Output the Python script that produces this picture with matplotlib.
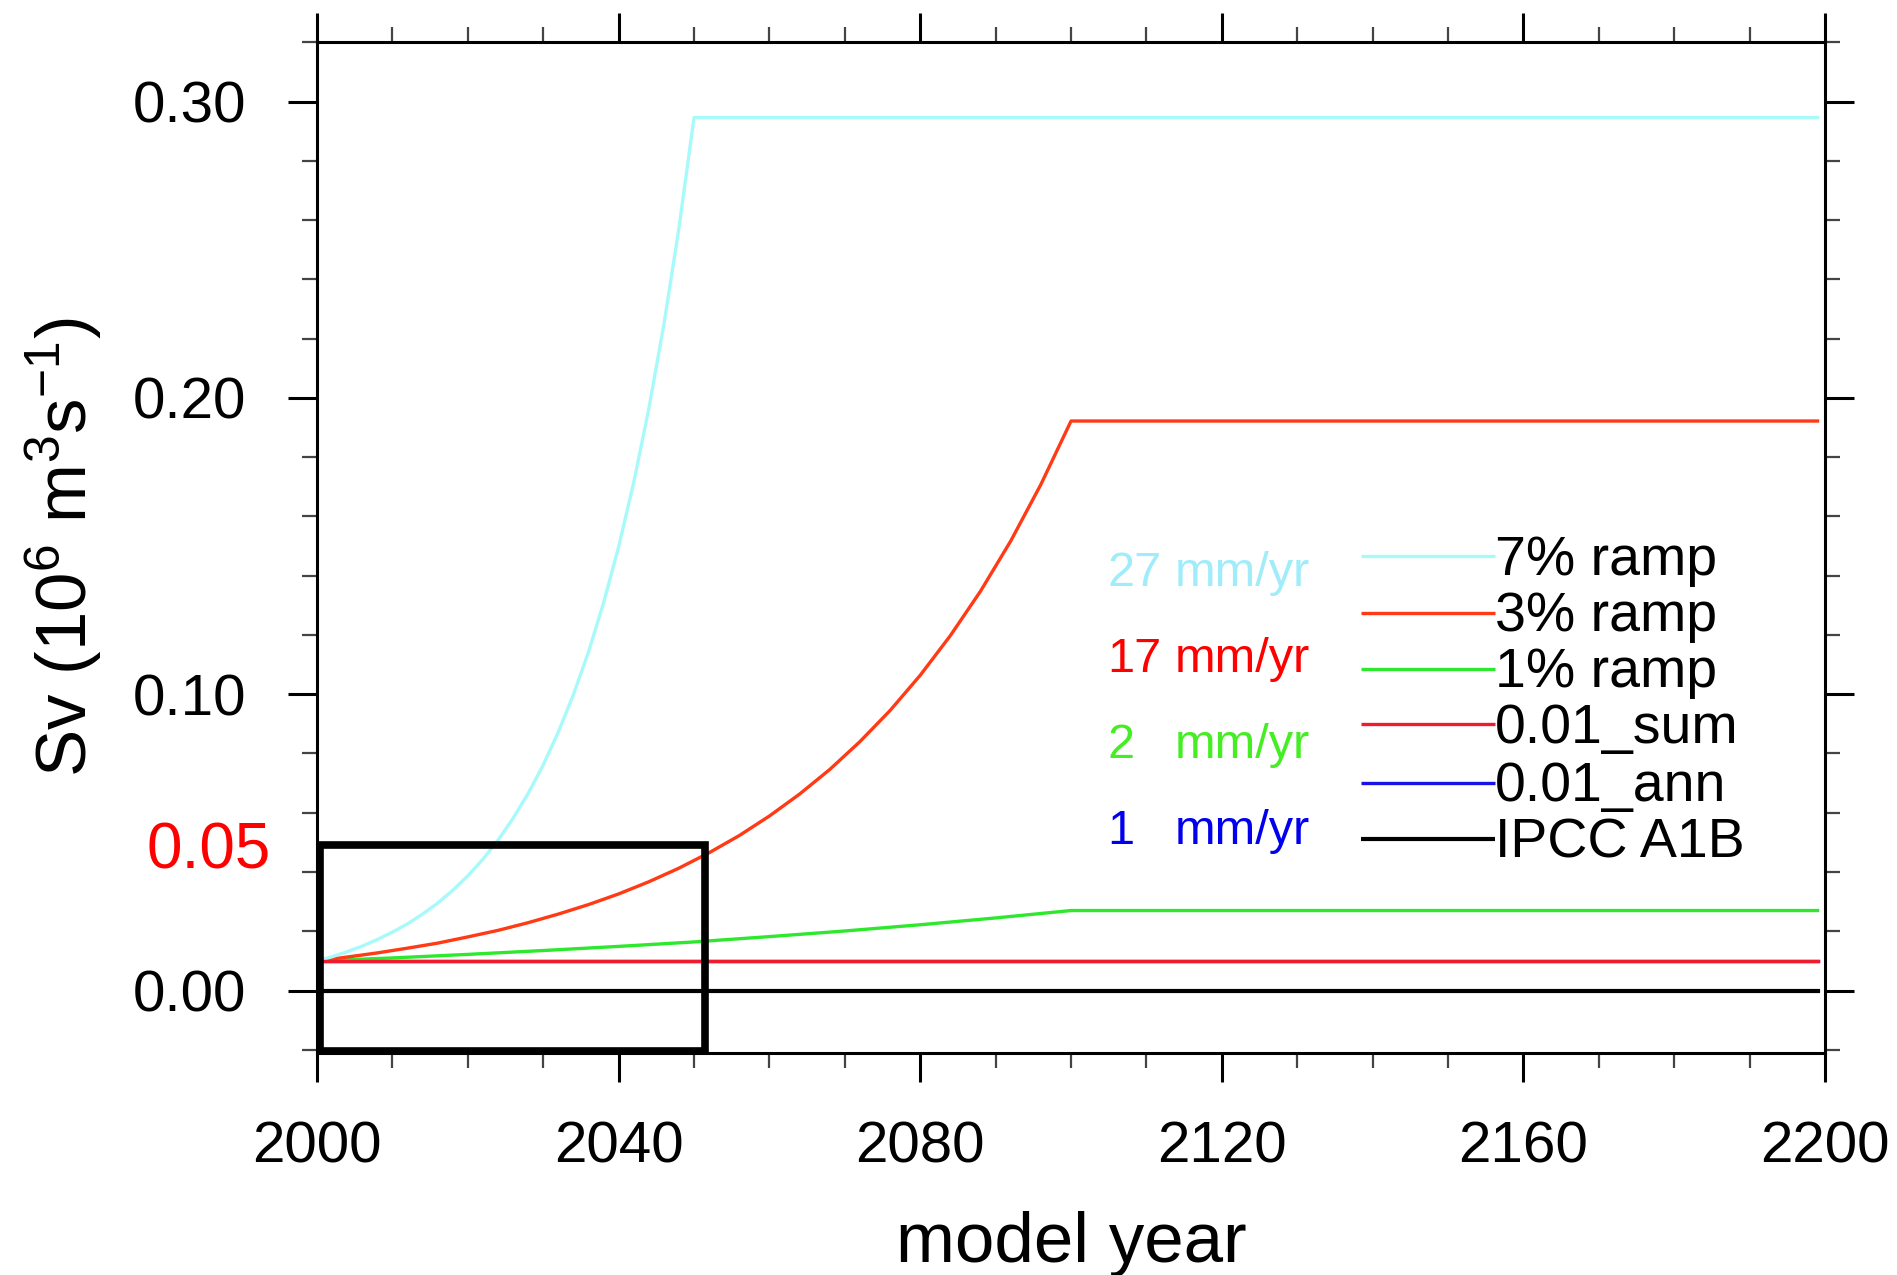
import matplotlib
matplotlib.use("Agg")
import matplotlib.pyplot as plt
from matplotlib.patches import Rectangle
from matplotlib.ticker import MultipleLocator

plt.rcParams["font.family"] = ["Liberation Sans", "DejaVu Sans"]
plt.rcParams["mathtext.fontset"] = "custom"
plt.rcParams["mathtext.rm"] = "Liberation Sans"
plt.rcParams["mathtext.it"] = "Liberation Sans:italic"

# Freshwater forcing (Sv)
years_7 = list(range(2000, 2051, 2)) + [2199]
ramp_7 = [0.0100, 0.0114, 0.0131, 0.0150, 0.0172, 0.0197, 0.0225, 0.0258,
          0.0295, 0.0338, 0.0387, 0.0443, 0.0507, 0.0581, 0.0665, 0.0761,
          0.0872, 0.0998, 0.1142, 0.1308, 0.1497, 0.1714, 0.1963, 0.2247,
          0.2573, 0.2946, 0.2946]

years_3 = list(range(2000, 2101, 4)) + [2199]
ramp_3 = [0.0100, 0.0113, 0.0127, 0.0143, 0.0160, 0.0181, 0.0203, 0.0229,
          0.0258, 0.0290, 0.0326, 0.0367, 0.0413, 0.0465, 0.0523, 0.0589,
          0.0663, 0.0746, 0.0840, 0.0945, 0.1064, 0.1198, 0.1348, 0.1517,
          0.1708, 0.1922, 0.1922]

years_1 = [2000, 2010, 2020, 2030, 2040, 2050, 2060, 2070, 2080, 2090, 2100, 2199]
ramp_1 = [0.0100, 0.0110, 0.0122, 0.0135, 0.0149, 0.0164, 0.0182, 0.0201,
          0.0222, 0.0245, 0.0270, 0.0270]

years_flat = [2000, 2199]
sum_001 = [0.010, 0.010]
ann_001 = [0.010, 0.010]
ipcc_a1b = [0.0, 0.0]

labels = ["7% ramp", "3% ramp", "1% ramp", "0.01_sum", "0.01_ann", "IPCC A1B"]
colors = ["#a8fafa", "#ff3a14", "#2ee82e", "#ee1c2c", "#1414e6", "#000000"]

rate_nums = ["27", "17", "2", "1"]
rate_colors = ["#a0ecfa", "#ff0000", "#44ee22", "#0000ee"]

fig = plt.figure(figsize=(18.97, 12.75), dpi=100)
ax = fig.add_axes([0.1671, 0.1743, 0.7950, 0.7925])

series = [(years_7, ramp_7), (years_3, ramp_3), (years_1, ramp_1),
          (years_flat, sum_001), (years_flat, ann_001), (years_flat, ipcc_a1b)]
# blue first so the red 0.01_sum line lies on top of it
for i in [5, 4, 3, 2, 1, 0]:
    x, y = series[i]
    lw = 3.0 if i == 5 else 2.4
    ax.plot(x, y, color=colors[i], lw=lw, zorder=3 + (i == 3))

ax.set_xlim(2000, 2200)
ax.set_ylim(-0.021, 0.32)
ax.xaxis.set_major_locator(MultipleLocator(40))
ax.xaxis.set_minor_locator(MultipleLocator(10))
ax.yaxis.set_major_locator(MultipleLocator(0.1))
ax.yaxis.set_minor_locator(MultipleLocator(0.02))
ax.yaxis.set_major_formatter(plt.FormatStrFormatter("%.2f"))

ax.tick_params(which="both", direction="out", top=True, right=True,
               labeltop=False, labelright=False)
ax.tick_params(which="major", length=21, width=2.2, labelsize=42)
ax.tick_params(axis="x", which="major", pad=28)
ax.tick_params(axis="y", which="major", pad=30)
ax.tick_params(which="minor", length=11, width=1.6, color="#444444")
for s in ax.spines.values():
    s.set_linewidth(2.2)

ax.set_xlabel("model year", fontsize=51)
ax.set_ylabel(r"Sv (10$^6$ m$^3$s$^{-1}$)", fontsize=51)
ax.xaxis.set_label_coords(0.5, -0.157)
ax.yaxis.set_label_coords(-0.141, 0.5)

# legend drawn by hand, NCL style
leg_y = [0.1465, 0.1273, 0.1086, 0.0898, 0.0702, 0.0510]
for yy, lab, col in zip(leg_y, labels, colors):
    ax.plot([2138.5, 2156.2], [yy, yy], color=col, lw=2.4 if col != "#000000" else 3.0,
            solid_capstyle="butt", zorder=5)
    ax.text(2156.2, yy - 0.0061, lab, fontsize=40, ha="left", va="baseline", zorder=6)

rate_y = [0.1365, 0.1075, 0.0785, 0.0495]
for yy, num, col in zip(rate_y, rate_nums, rate_colors):
    ax.text(2104.8, yy, num, fontsize=35, color=col, ha="left", va="baseline")
    ax.text(2113.8, yy, "mm/yr", fontsize=35, color=col, ha="left", va="baseline")

# zoom box and its label
ax.add_patch(Rectangle((2000.4, -0.0204), 51.1, 0.0694, fill=False,
                       edgecolor="black", lw=5.5, zorder=7, clip_on=False))
ax.text(1993.9, 0.0469, "0.05", fontsize=46, color="red", ha="right", va="center")

plt.savefig("out.png", dpi=100)
